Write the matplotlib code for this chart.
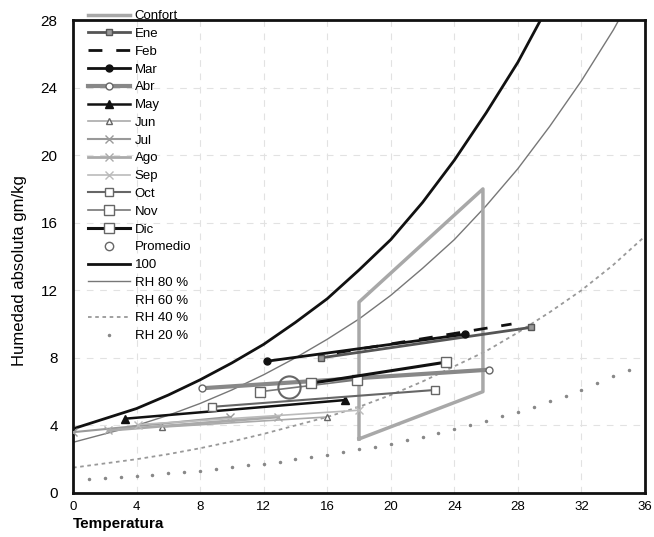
import matplotlib
matplotlib.use('Agg')
import matplotlib.pyplot as plt

plt.rcParams['font.family'] = ['Liberation Sans', 'DejaVu Sans']

# Curvas de humedad relativa (temperatura cada 2 grados)
t_curva = [0, 2, 4, 6, 8, 10, 12, 14, 16, 18, 20, 22, 24, 26, 28, 30, 32, 34, 36]
hr_100 = [3.8, 4.4, 5.0, 5.8, 6.7, 7.7, 8.8, 10.1, 11.5, 13.2, 15.0, 17.2, 19.7, 22.5, 25.5, 29.0, 32.6, 36.5, 40.8]
hr_80 = [3.0, 3.5, 4.0, 4.6, 5.3, 6.1, 7.0, 8.0, 9.1, 10.3, 11.7, 13.3, 15.0, 17.0, 19.2, 21.7, 24.4, 27.4, 30.8]
hr_40 = [1.5, 1.75, 2.0, 2.3, 2.65, 3.05, 3.5, 4.0, 4.5, 5.1, 5.8, 6.6, 7.5, 8.4, 9.5, 10.7, 12.0, 13.5, 15.2]
# RH 20 % (puntos cada grado)
t_rh20 = list(range(1, 36))
hr_20 = [0.8, 0.87, 0.94, 1.0, 1.08, 1.16, 1.24, 1.33, 1.42, 1.52, 1.63, 1.74, 1.86, 1.99, 2.12,
         2.26, 2.42, 2.58, 2.75, 2.93, 3.12, 3.33, 3.54, 3.77, 4.01, 4.27, 4.53, 4.82, 5.12, 5.44,
         5.77, 6.12, 6.5, 6.9, 7.3]

# Zona de confort
confort_t = [18.0, 18.0, 25.8, 25.8, 18.0]
confort_hr = [3.2, 11.3, 18.0, 6.0, 3.2]

# Meses: (temp. minima, humedad) -> (temp. maxima, humedad)
meses = ['Ene', 'Feb', 'Mar', 'Abr', 'May', 'Jun', 'Jul', 'Ago', 'Sep', 'Oct', 'Nov', 'Dic']
t_min = [15.6, 16.6, 12.2, 8.1, 3.3, 5.6, 0.0, 2.2, 4.1, 8.75, 11.8, 15.0]
hr_min = [8.0, 8.3, 7.8, 6.2, 4.4, 3.9, 3.6, 3.7, 4.05, 5.1, 6.0, 6.5]
t_max = [28.8, 27.6, 24.7, 26.2, 17.1, 16.0, 9.9, 12.9, 18.0, 22.8, 17.9, 23.5]
hr_max = [9.8, 10.0, 9.4, 7.3, 5.5, 4.5, 4.5, 4.5, 4.9, 6.1, 6.7, 7.75]

prom_t = [13.6]
prom_hr = [6.3]

# estilo de cada mes: color, grosor, linea, marcador, relleno, tamaño
estilos = [
    ('#555555', 2.0, '-', 's', '#999999', 4),
    ('#111111', 2.0, (0, (5, 5)), None, 'none', 0),
    ('#111111', 2.0, '-', 'o', '#111111', 5),
    ('#888888', 3.0, '-', 'o', 'white', 5),
    ('#111111', 1.8, '-', '^', '#111111', 6),
    ('#aaaaaa', 1.2, '-', '^', 'white', 5),
    ('#999999', 1.5, '-', 'x', '#999999', 6),
    ('#aaaaaa', 2.0, '-', 'x', '#aaaaaa', 6),
    ('#bbbbbb', 1.2, '-', 'x', '#bbbbbb', 6),
    ('#666666', 1.5, '-', 's', 'white', 6),
    ('#777777', 1.2, '-', 's', 'white', 7),
    ('#111111', 2.2, '-', 's', 'white', 7),
]

fig = plt.figure(figsize=(6.54, 5.37), dpi=100)
ax = fig.add_axes([73 / 654, 44 / 537, 572 / 654, 473 / 537])

handles = []

h, = ax.plot(confort_t, confort_hr, color='#a8a8a8', lw=2.5, label='Confort', zorder=3)
handles.append(h)

for i, mes in enumerate(meses):
    c, lw, ls, mk, fc, ms = estilos[i]
    mec = '#666666' if fc == 'white' else c
    h, = ax.plot([t_min[i], t_max[i]], [hr_min[i], hr_max[i]], color=c, lw=lw, ls=ls,
                 marker=mk, markersize=ms, markerfacecolor=fc, markeredgecolor=mec,
                 label=mes, zorder=4)
    handles.append(h)

h, = ax.plot(prom_t, prom_hr, ls='none', marker='o', markersize=16, markerfacecolor='none',
             markeredgecolor='#666666', markeredgewidth=1.5, label='Promedio', zorder=5)
handles.append(h)

h, = ax.plot(t_curva, hr_100, color='#111111', lw=2.0, label='100', zorder=2)
handles.append(h)
h, = ax.plot(t_curva, hr_80, color='#777777', lw=1.0, label='RH 80 %', zorder=2)
handles.append(h)
h, = ax.plot([], [], color='none', label='RH 60 %')
handles.append(h)
h, = ax.plot(t_curva, hr_40, color='#999999', lw=1.3, ls=(0, (2, 2)), label='RH 40 %', zorder=2)
handles.append(h)
h, = ax.plot(t_rh20, hr_20, ls='none', marker='.', markersize=3, color='#888888',
             label='RH 20 %', zorder=2)
handles.append(h)

ax.set_xlim(0, 36)
ax.set_ylim(0, 28)
ax.set_xticks(range(0, 37, 4))
ax.set_yticks(range(0, 29, 4))
ax.tick_params(axis='x', length=0, pad=6, labelsize=9.5)
ax.tick_params(axis='y', length=0, pad=11, labelsize=11)
ax.grid(True, color='#e2e2e2', lw=0.8, ls=(0, (6, 6)))
ax.set_axisbelow(True)
for s in ax.spines.values():
    s.set_linewidth(2)
    s.set_color('#111111')

ax.set_xlabel('Temperatura', fontweight='bold', fontsize=11, loc='left')
ax.xaxis.set_label_coords(0, -0.05)
ax.set_ylabel('Humedad absoluta gm/kg', fontsize=12)
ax.yaxis.set_label_coords(-0.08, 0.47)

leg = fig.legend(handles=handles, loc='upper left', bbox_to_anchor=(88 / 654, 1 - 10 / 537),
                 frameon=False, fontsize=9.5, handlelength=3.2, handletextpad=0.35,
                 labelspacing=0.42, borderpad=0, borderaxespad=0, numpoints=1)
leg.legend_handles[13].set_markersize(6)
leg.legend_handles[13].set_markeredgewidth(1)

fig.savefig('out.png', dpi=100)
